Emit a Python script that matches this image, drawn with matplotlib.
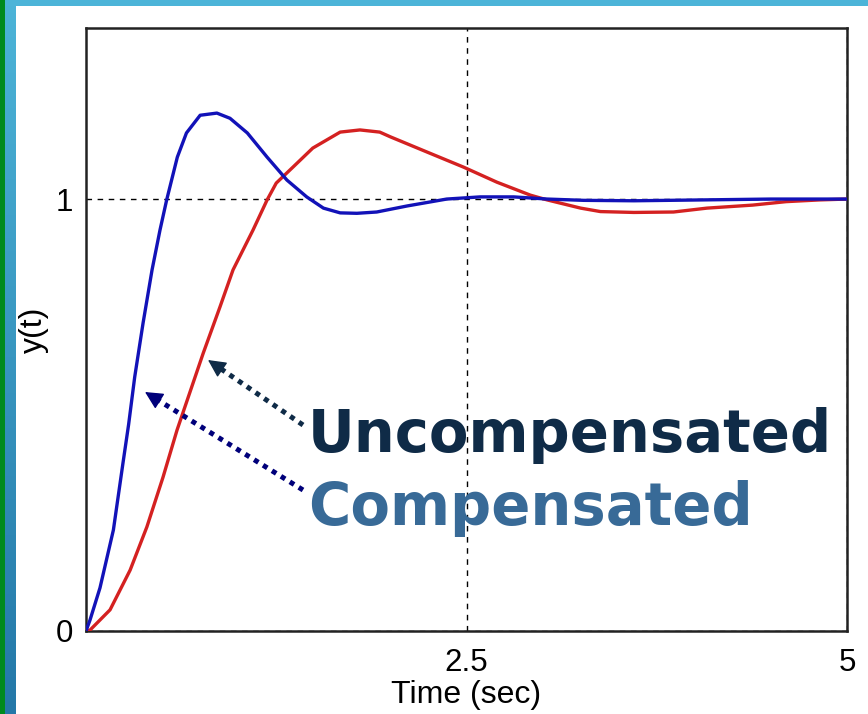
import numpy as np
import matplotlib
matplotlib.use("Agg")
import matplotlib.pyplot as plt
from matplotlib.patches import Rectangle
from matplotlib.colors import LinearSegmentedColormap

# Data
t_comp = [0, 0.026, 0.092, 0.18, 0.243, 0.28, 0.32, 0.375, 0.434, 0.486, 0.53, 0.60, 0.66,
          0.75, 0.86, 0.946, 1.06, 1.19, 1.32, 1.45, 1.56, 1.67, 1.78, 1.91, 2.11, 2.37,
          2.59, 2.81, 3.03, 3.27, 3.6, 4.05, 4.5, 5.0]
y_comp = [0, 0.025, 0.10, 0.234, 0.389, 0.478, 0.588, 0.713, 0.836, 0.928, 0.998, 1.097, 1.153,
          1.194, 1.199, 1.187, 1.153, 1.097, 1.044, 1.005, 0.979, 0.968, 0.967, 0.970, 0.984, 1.0,
          1.005, 1.005, 1.0, 0.997, 0.996, 0.998, 1.0, 1.0]

t_unc = [0, 0.026, 0.158, 0.29, 0.40, 0.506, 0.598, 0.77, 0.88, 0.966, 1.097, 1.19, 1.25,
         1.36, 1.49, 1.67, 1.80, 1.93, 2.0, 2.26, 2.48, 2.70, 2.92, 3.03, 3.25, 3.38,
         3.6, 3.86, 4.08, 4.38, 4.6, 4.82, 5.0]
y_unc = [0, 0.002, 0.049, 0.141, 0.241, 0.356, 0.465, 0.643, 0.75, 0.836, 0.928, 0.998, 1.037,
         1.074, 1.118, 1.155, 1.16, 1.155, 1.144, 1.106, 1.074, 1.039, 1.009, 0.998, 0.979, 0.971,
         0.969, 0.970, 0.979, 0.986, 0.994, 0.998, 1.0]

xticks = [2.5, 5]
xtick_labels = ["2.5", "5"]
yticks = [0, 1]
ytick_labels = ["0", "1"]

W, H = 868, 714
fig = plt.figure(figsize=(W / 100, H / 100), dpi=100, facecolor="white")

# decorative slide border
fig.patches.append(Rectangle((0, 0), 5 / W, 1, transform=fig.transFigure,
                             facecolor="#008a1e", edgecolor="none", zorder=0))
grad_ax = fig.add_axes([5 / W, 0, 11 / W, 1])
grad = np.linspace(0, 1, 256).reshape(-1, 1)
cm = LinearSegmentedColormap.from_list("b", ["#4cb4d8", "#2478a8"])
grad_ax.imshow(grad, aspect="auto", cmap=cm, extent=[0, 1, 1, 0])
grad_ax.set_axis_off()
fig.patches.append(Rectangle((5 / W, 1 - 6 / H), 1, 6 / H, transform=fig.transFigure,
                             facecolor="#4cb4d8", edgecolor="none", zorder=0))

ax = fig.add_axes([86 / W, 83 / H, (847 - 86) / W, (631 - 28) / H])
ax.plot(t_unc, y_unc, color="#d42121", lw=2.4, zorder=3)
ax.plot(t_comp, y_comp, color="#1212b8", lw=2.4, zorder=4)

ax.set_xlim(0, 5)
ax.set_ylim(0, 1.396)
ax.set_xticks(xticks)
ax.set_xticklabels(xtick_labels)
ax.set_yticks(yticks)
ax.set_yticklabels(ytick_labels)
ax.tick_params(axis="x", direction="in", length=0, labelsize=22.5, pad=12)
ax.tick_params(axis="y", direction="in", length=0, labelsize=22.5, pad=9)
for lab in ax.get_xticklabels() + ax.get_yticklabels():
    lab.set_family("Liberation Sans")
ax.grid(True, linestyle=(0, (4, 4)), color="black", lw=1.0)
for s in ax.spines.values():
    s.set_linewidth(1.8)
    s.set_color("#222222")

ax.set_xlabel("Time (sec)", fontsize=23, family="Liberation Sans", labelpad=2)
ax.set_ylabel("y(t)", fontsize=23, family="Liberation Sans", labelpad=5)

# annotations
fig.text(308 / W, 1 - 452 / H, "Uncompensated", fontsize=41.5, fontweight="bold",
         color="#0f2b47", family="DejaVu Sans", ha="left", va="baseline")
fig.text(308 / W, 1 - 525 / H, "Compensated", fontsize=41.5, fontweight="bold",
         color="#386a97", family="DejaVu Sans", ha="left", va="baseline")


def dotted_arrow(start, tip, color):
    sx, sy = start
    tx, ty = tip
    d = np.hypot(tx - sx, ty - sy)
    ux, uy = (tx - sx) / d, (ty - sy) / d
    head = 16
    bx, by = tx - ux * head, ty - uy * head
    fig.add_artist(plt.Line2D([sx, bx], [H - sy, H - by], transform=None, color=color,
                              lw=3.6, linestyle=(0, (1, 1.1)), dash_capstyle="butt"))
    ax.annotate("", xy=(tx, H - ty), xytext=(bx + ux * 2, H - (by + uy * 2)),
                xycoords="figure pixels", textcoords="figure pixels",
                arrowprops=dict(arrowstyle="-|>,head_length=1.1,head_width=0.55",
                                color=color, lw=1.0, shrinkA=0, shrinkB=0))


dotted_arrow((303, 425), (208, 360), "#0f2b47")
dotted_arrow((303, 490), (145, 392), "#00007a")

fig.savefig("out.png", dpi=100, facecolor="white")
